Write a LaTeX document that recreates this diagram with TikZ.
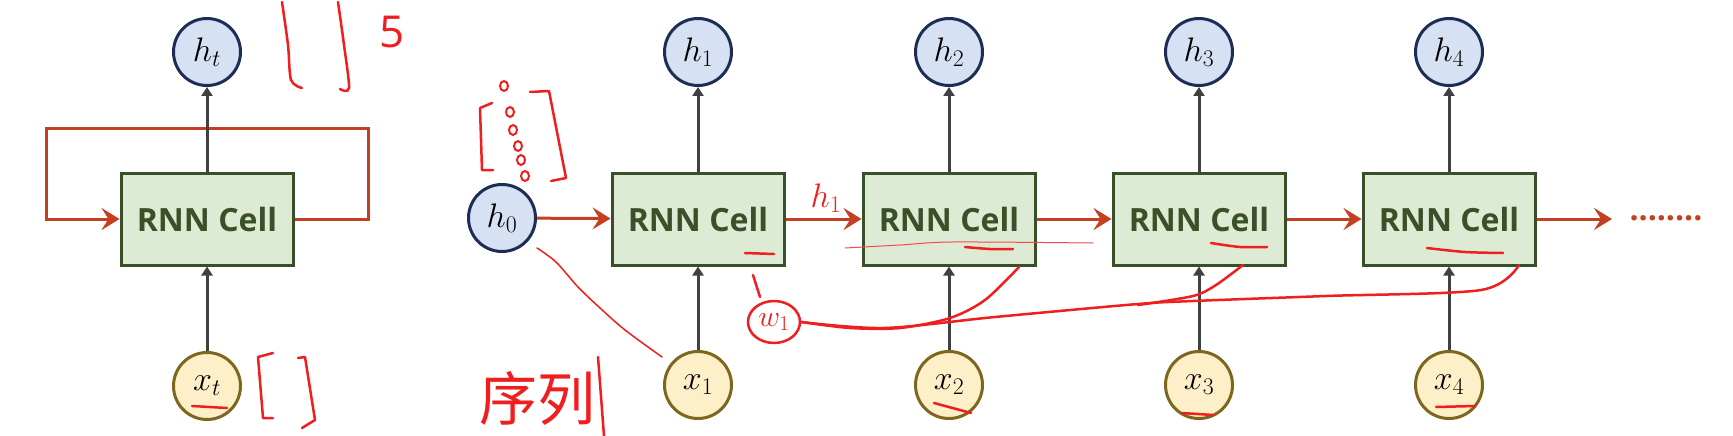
\RequirePackage{fix-cm}
\documentclass[tikz,border=0pt]{standalone}
\usepackage{fontspec}
\usepackage{tikz}
\usetikzlibrary{arrows.meta, shapes.geometric}

\newfontfamily\cellfont{Open Sans}
\newfontfamily\cjk{Noto Sans CJK SC}

\definecolor{cellfill}{RGB}{221,235,213}
\definecolor{cellborder}{RGB}{56,80,40}
\definecolor{celltext}{RGB}{58,80,40}
\definecolor{hfill}{RGB}{214,225,243}
\definecolor{hborder}{RGB}{30,45,85}
\definecolor{xfill}{RGB}{253,239,200}
\definecolor{xborder}{RGB}{125,102,30}
\definecolor{arrowred}{RGB}{196,64,32}
\definecolor{arrowgray}{RGB}{64,64,64}
\definecolor{inkred}{RGB}{240,30,30}

\begin{document}
\begin{tikzpicture}[x=1pt, y=-1pt,
    cell/.style={draw=cellborder, fill=cellfill, line width=3pt, minimum width=172pt, minimum height=92pt,
        text=celltext, font=\cellfont\bfseries\fontsize{32}{36}\selectfont},
    hid/.style={circle, draw=hborder, fill=hfill, line width=3pt, minimum size=67pt, inner sep=0pt,
        font=\fontsize{34}{38}\selectfont},
    inp/.style={circle, draw=xborder, fill=xfill, line width=3pt, minimum size=67pt, inner sep=0pt,
        font=\fontsize{34}{38}\selectfont},
    flow/.style={draw=arrowred, line width=3pt, -{Stealth[length=18pt, width=22pt, inset=7pt]}},
    feed/.style={draw=arrowgray, line width=3pt, -{Triangle[length=9pt, width=11pt]}},
    ink/.style={draw=inkred, line width=2.5pt, line cap=round, line join=round}]

    % --- Khung ---
    \useasboundingbox (0,0) rectangle (1733,436);
    \fill[white] (0,0) rectangle (1733,436);

    % --- RNN gấp (bên trái) ---
    \node[hid] (ht) at (207,52) {$h_t$};
    \node[cell] (cellt) at (207,219) {RNN Cell};
    \node[inp] (xt) at (207,386) {$x_t$};
    \coordinate (loopR) at (368,128);
    \coordinate (loopL) at (46,128);
    \draw[flow] (cellt.east) -| (loopR) -- (loopL) |- (cellt.west);
    \draw[feed] (cellt) -- (ht);
    \draw[feed] (xt) -- (cellt);

    % --- RNN trải theo thời gian ---
    \node[hid] (h0) at (502,218) {$h_0$};
    \node[cell] (cell1) at (698,219) {RNN Cell};
    \node[cell] (cell2) at (949,219) {RNN Cell};
    \node[cell] (cell3) at (1199,219) {RNN Cell};
    \node[cell] (cell4) at (1449,219) {RNN Cell};
    \node[hid] (h1) at (698,52) {$h_1$};
    \node[hid] (h2) at (949,52) {$h_2$};
    \node[hid] (h3) at (1199,52) {$h_3$};
    \node[hid] (h4) at (1449,52) {$h_4$};
    \node[inp] (x1) at (698,385) {$x_1$};
    \node[inp] (x2) at (949,385) {$x_2$};
    \node[inp] (x3) at (1199,385) {$x_3$};
    \node[inp] (x4) at (1449,385) {$x_4$};
    \coordinate (tail) at (1612,219);
    \node[text=arrowred, font=\cellfont\bfseries\fontsize{32}{36}\selectfont, inner sep=0pt] (dots) at (1666,218) {........};

    \draw[flow] (h0) -- (cell1);
    \draw[flow] (cell1) -- (cell2);
    \draw[flow] (cell2) -- (cell3);
    \draw[flow] (cell3) -- (cell4);
    \draw[flow] (cell4.east) -- (tail);
    \draw[feed] (cell1) -- (h1);
    \draw[feed] (cell2) -- (h2);
    \draw[feed] (cell3) -- (h3);
    \draw[feed] (cell4) -- (h4);
    \draw[feed] (x1) -- (cell1);
    \draw[feed] (x2) -- (cell2);
    \draw[feed] (x3) -- (cell3);
    \draw[feed] (x4) -- (cell4);

    % --- Nét bút đỏ viết tay ---
    \draw[ink] plot[smooth] coordinates {(282,2) (288,45) (291,80) (302,88)};
    \draw[ink] plot[smooth] coordinates {(338,2) (344,45) (349,88) (340,89)};
    \node[text=inkred, font=\cellfont\fontsize{44}{48}\selectfont] (five) at (392,32) {5};
    \draw[ink] (273,353) -- (258,357) -- (263,418) -- (273,418);
    \draw[ink] (298,358) -- (305,357) -- (315,420) -- (302,428);
    \draw[ink] (192,406) -- (227,408);

    \draw[ink] (492,103) -- (480,108) -- (482,170) -- (493,170);
    \draw[ink] (530,92) -- (549,91) -- (566,178) -- (551,181);
    \draw[ink, line width=2pt] (504,86) ellipse (4 and 5) (510,112) ellipse (4 and 5) (513,130) ellipse (4 and 5)
        (518,146) ellipse (4 and 5) (521,160) ellipse (4 and 5) (525,176) ellipse (4 and 5);
    \draw[ink, line width=1.5pt] plot[smooth] coordinates {(537,248) (556,262) (578,287) (600,308) (625,330) (662,357)};
    \node[text=inkred, font=\cjk\fontsize{58}{60}\selectfont] (seq) at (537,398) {序列};
    \draw[ink] (598,357) -- (604,436);

    \node[text=inkred, font=\fontsize{34}{38}\selectfont] (hone) at (826,198) {$h_1$};
    \draw[ink] (753,275) -- (760,297);
    \node[ink, ellipse, minimum width=52pt, minimum height=42pt, inner sep=0pt, text=inkred,
        font=\fontsize{30}{32}\selectfont] (w1) at (774,322) {$w_1$};
    \draw[ink] plot[smooth] coordinates {(w1.east) (850,328) (900,328) (950,318) (985,300) (1019,267)};
    \draw[ink] plot[smooth] coordinates {(w1.east) (884,328) (995,317) (1138,304) (1193,301) (1326,296) (1481,290) (1519,265)};
    \draw[ink] plot[smooth] coordinates {(1243,265) (1216,285) (1193,296) (1138,305)};
    \draw[ink, line width=1pt, inkred!80] plot[smooth] coordinates {(845,248) (900,245) (953,242) (1093,243)};

    \draw[ink] (745,253) -- (774,254);
    \draw[ink] plot[smooth] coordinates {(965,247) (990,249) (1013,249)};
    \draw[ink] plot[smooth] coordinates {(1211,243) (1240,247) (1267,247)};
    \draw[ink] plot[smooth] coordinates {(1427,248) (1465,252) (1503,253)};
    \draw[ink] (934,403) -- (971,413);
    \draw[ink] (1182,413) -- (1213,415);
    \draw[ink] (1436,407) -- (1475,406);
\end{tikzpicture}
\end{document}
